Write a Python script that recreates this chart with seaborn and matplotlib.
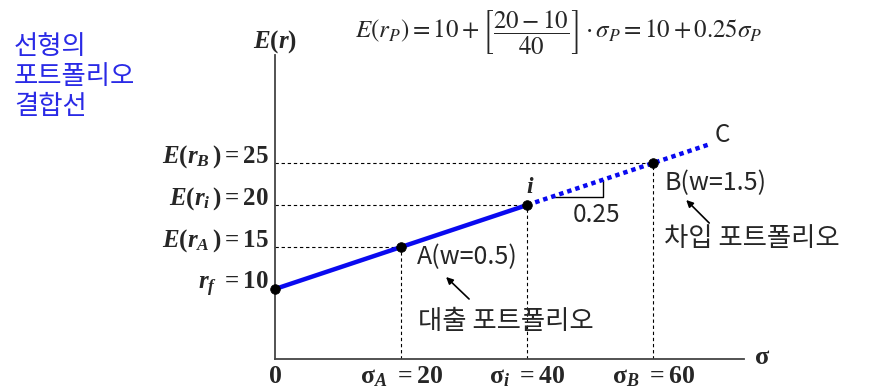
import matplotlib
matplotlib.use("Agg")
import matplotlib.pyplot as plt
import matplotlib.transforms as mtransforms
import seaborn as sns

# ---- data ----
port_sigma = [0, 20, 40, 60]
port_ret = [10, 15, 20, 25]
lend_sigma = [0, 40]
lend_ret = [10, 20]
borrow_sigma = [40, 69]
borrow_ret = [20, 27.25]
ylabels = [r"$r_f\ = 10$", r"$E(r_A\,) = 15$", r"$E(r_i\,) = 20$", r"$E(r_B\,) = 25$"]
xlabels = [r"$0$", r"$\mathrm{\sigma}_A\ = 20$", r"$\mathrm{\sigma}_i\ = 40$", r"$\mathrm{\sigma}_B\ = 60$"]
slope_sigma = [44, 52, 52]
slope_ret = [21, 21, 23]

sns.set_theme(style="white")
plt.rcParams["font.family"] = ["Noto Sans CJK KR", "DejaVu Sans"]
plt.rcParams["mathtext.fontset"] = "custom"
plt.rcParams["mathtext.rm"] = "Liberation Serif:bold"
plt.rcParams["mathtext.bf"] = "Liberation Serif:bold"
plt.rcParams["mathtext.it"] = "Liberation Serif:bold:italic"

W, H = 874, 391
fig = plt.figure(figsize=(W / 100, H / 100), dpi=100)
ax = fig.add_axes([275 / W, 1 - 359 / H, 469 / W, 304 / H])
ax.set_xlim(0, 74.4)
ax.set_ylim(1.667, 37.86)

blue = "#0a0af0"
# dashed guides
ax.hlines(port_ret[1:], 0, port_sigma[1:], colors="black", linestyles=(0, (3, 2.5)), linewidth=0.8, zorder=1)
ax.vlines(port_sigma[1:], 1.667, port_ret[1:], colors="black", linestyles=(0, (3, 2.5)), linewidth=0.8, zorder=1)

sns.lineplot(x=lend_sigma, y=lend_ret, color=blue, linewidth=3.2, ax=ax, zorder=3)
sns.lineplot(x=borrow_sigma, y=borrow_ret, color=blue, linewidth=3.2, linestyle=(0, (1, 0.9)), ax=ax, zorder=3)
ax.plot(slope_sigma, slope_ret, color="black", linewidth=1.0, zorder=2)
sns.scatterplot(x=port_sigma, y=port_ret, color="black", s=48, edgecolor="black", ax=ax, zorder=5, clip_on=False)

for s in ["top", "right"]:
    ax.spines[s].set_visible(False)
for s in ["left", "bottom"]:
    ax.spines[s].set_color("#444444")
    ax.spines[s].set_linewidth(1.3)
ax.set_xticks([])
ax.set_yticks([])

def off(tr, dx, dy):
    return mtransforms.offset_copy(tr, fig=fig, x=dx, y=dy, units="dots")

# y labels
bty = mtransforms.blended_transform_factory(ax.transAxes, ax.transData)
for v, lab in zip(port_ret, ylabels):
    ax.text(0, v, lab, transform=off(bty, -6, 0), ha="right", va="baseline",
            fontsize=18, math_fontfamily="custom")
# x labels
btx = mtransforms.blended_transform_factory(ax.transData, ax.transAxes)
for s, lab in zip(port_sigma, xlabels):
    ax.text(s, 0, lab, transform=off(btx, 0, -24), ha="center", va="baseline",
            fontsize=18.5, math_fontfamily="custom")

ax.text(0, 1, r"$E(r)$", transform=off(ax.transAxes, 0, 13), ha="center", va="center",
        fontsize=18, math_fontfamily="custom")
ax.text(1, 0, r"$\mathrm{\sigma}$", transform=off(ax.transAxes, 18, 2), ha="center", va="center",
        fontsize=19, math_fontfamily="custom")

# point labels
td = ax.transData
ax.text(40, 20, r"$i$", transform=off(td, 3, 19), ha="center", va="center", fontsize=17,
        math_fontfamily="custom")
ax.text(52, 21, "0.25", transform=off(td, -6, -18), ha="center", va="center", fontsize=17.5)
ax.text(borrow_sigma[1], borrow_ret[1], "C", transform=off(td, 12, 9), ha="center", va="center", fontsize=17.5)

ax.text(20, 15, "A(w=0.5)", transform=off(td, 16, -10), ha="left", va="center", fontsize=18)
ax.text(20, 15, "대출 포트폴리오", transform=off(td, 17, -74), ha="left", va="center", fontsize=19)
ax.annotate("", xy=(20, 15), xycoords=off(td, 45, -30), xytext=(20, 15), textcoords=off(td, 68, -52),
            arrowprops=dict(arrowstyle="-|>", color="black", lw=1.2, mutation_scale=10, shrinkA=0, shrinkB=0))

ax.text(60, 25, "B(w=1.5)", transform=off(td, 11, -20), ha="left", va="center", fontsize=18)
ax.text(60, 25, "차입 포트폴리오", transform=off(td, 11, -75), ha="left", va="center", fontsize=19)
ax.annotate("", xy=(60, 25), xycoords=off(td, 33, -37), xytext=(60, 25), textcoords=off(td, 56, -60),
            arrowprops=dict(arrowstyle="-|>", color="black", lw=1.2, mutation_scale=10, shrinkA=0, shrinkB=0))

# formula
fig.text(559 / W, 1 - 32 / H,
         r"$E(r_P) = 10 + \left[\dfrac{20-10}{40}\right]\cdot\sigma_P = 10 + 0.25\sigma_P$",
         ha="center", va="center", fontsize=18, math_fontfamily="stix")

# blue side text
for yy, t in zip([46, 77, 107], ["선형의", "포트폴리오", "결합선"]):
    fig.text(14 / W, 1 - yy / H, t, ha="left", va="center", fontsize=19, color="#2a2ae6")

fig.savefig("out.png", dpi=100)
